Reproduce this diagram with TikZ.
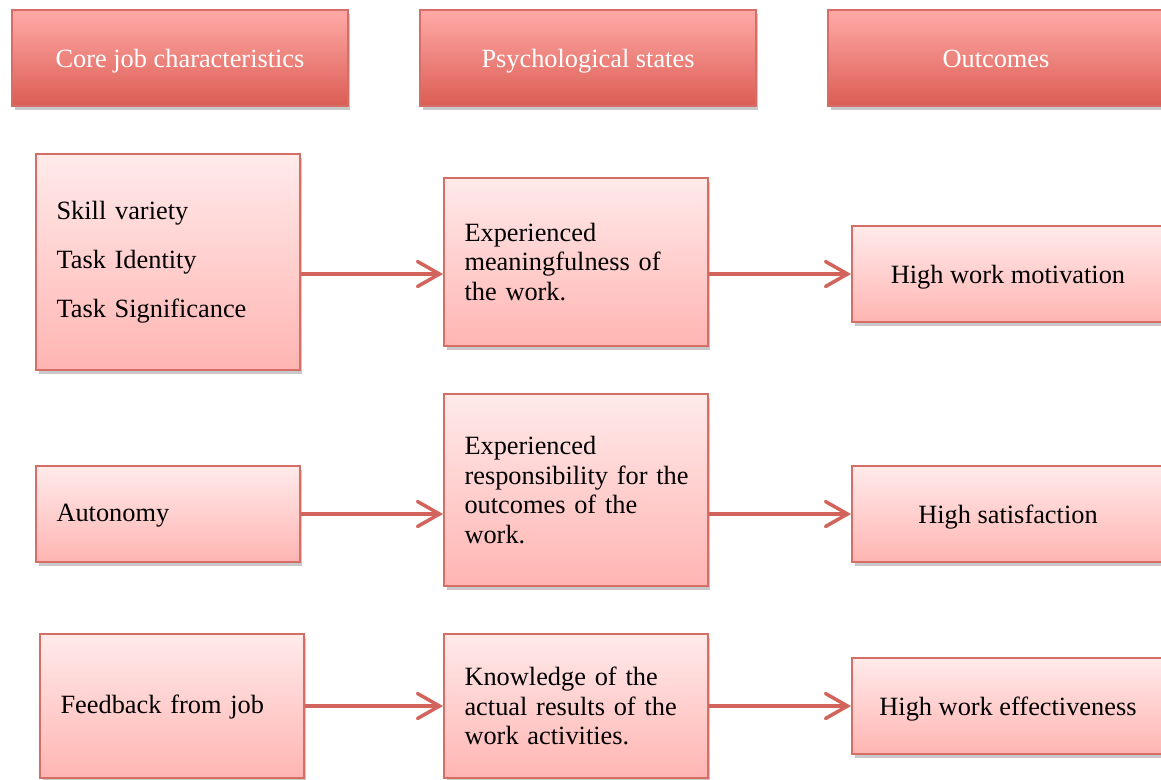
\documentclass[tikz,border=0pt]{standalone}
\usepackage{fontspec}
\setmainfont{Liberation Serif}
\usepackage{xcolor}
\usepackage{tikz}
\usetikzlibrary{arrows.meta,shadows}
\definecolor{hdrtop}{HTML}{FFAAA7}
\definecolor{hdrbot}{HTML}{DB5D53}
\definecolor{boxtop}{HTML}{FFEAEA}
\definecolor{boxbot}{HTML}{FFB5B2}
\definecolor{jcedge}{HTML}{D56E67}
\definecolor{jcline}{HTML}{D2645C}
\tikzset{
  jc base/.style={
    rectangle,
    line width=1.1pt,
    draw=jcedge,
    font=\fontsize{15}{17}\selectfont,
    inner ysep=3pt,
    drop shadow={opacity=0.3, shadow xshift=0.05cm, shadow yshift=-0.08cm, fill=black!70},
  },
  jc header/.style={
    jc base,
    minimum width=6.72cm,
    minimum height=1.92cm,
    top color=hdrtop,
    bottom color=hdrbot,
    text=white,
    text height=11pt,
    text depth=0pt,
  },
  jc box/.style={
    jc base,
    minimum width=5.28cm,
    top color=boxtop,
    bottom color=boxbot,
    text=black,
    inner xsep=0.41cm,
    text width=4.46cm,
    align=left,
  },
  jc result/.style={
    jc base,
    minimum width=6.24cm,
    minimum height=1.92cm,
    top color=boxtop,
    bottom color=boxbot,
    text=black,
    text height=11pt,
    text depth=0pt,
  },
  jc arrow/.style={
    -{Straight Barb[length=0.44cm, width=0.5cm, line cap=round, line width=2pt]},
    line width=1.8pt,
    draw=jcline,
  },
}

\begin{document}
\begin{tikzpicture}[x=0.02cm, y=-0.02cm]
  \clip (0,0) rectangle (1161,779);
  \fill[white] (0,0) rectangle (1161,779);

  % column headers
  \node[jc header] (hcore) at (180,58) {Core job characteristics};
  \node[jc header] (hpsy) at (588,58) {Psychological states};
  \node[jc header] (hout) at (996,58) {Outcomes};

  % core job characteristics
  \node[jc box, minimum height=4.32cm] (skill) at (168,262)
    {Skill variety\\[11pt]Task Identity\\[11pt]Task Significance};
  \node[jc box, minimum height=1.92cm, text height=8pt, text depth=0pt] (auto) at (168,514) {Autonomy};
  \node[jc box, minimum height=2.88cm, text height=8pt, text depth=0pt] (feed) at (172,706) {Feedback from job};

  % psychological states
  \node[jc box, minimum height=3.36cm] (mean) at (576,262)
    {Experienced\\meaningfulness of\\the work.};
  \node[jc box, minimum height=3.84cm] (resp) at (576,490)
    {Experienced\\\mbox{responsibility for the}\\outcomes of the\\work.};
  \node[jc box, minimum height=2.88cm] (know) at (576,706)
    {Knowledge of the\\actual results of the\\work activities.};

  % outcomes
  \node[jc result] (motiv) at (1008,274) {High work motivation};
  \node[jc result] (satis) at (1008,514) {High satisfaction};
  \node[jc result] (effect) at (1008,706) {High work effectiveness};

  \draw[jc arrow] (skill.east |- motiv) -- (mean.west |- motiv);
  \draw[jc arrow] (mean.east |- motiv) -- (motiv.west);
  \draw[jc arrow] (auto.east) -- (resp.west |- satis);
  \draw[jc arrow] (resp.east |- satis) -- (satis.west);
  \draw[jc arrow] (feed.east) -- (know.west);
  \draw[jc arrow] (know.east) -- (effect.west);
\end{tikzpicture}
\end{document}
